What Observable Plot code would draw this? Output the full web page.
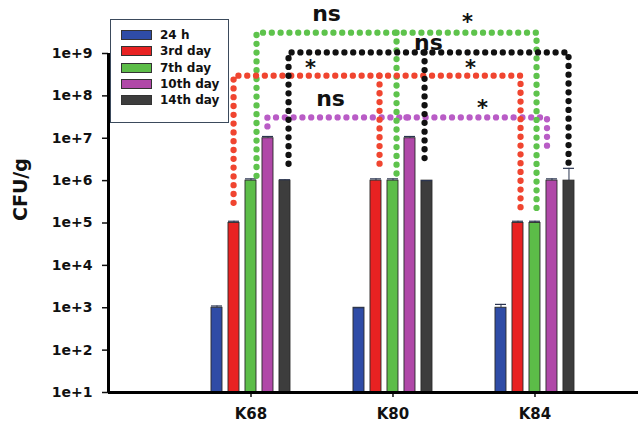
<!DOCTYPE html>
<html><head><meta charset="utf-8">
<script src="https://cdn.jsdelivr.net/npm/d3@7"></script>
<script src="https://cdn.jsdelivr.net/npm/@observablehq/plot@0.6"></script>
<style>
body{margin:0;background:#fff;}
#wrap{position:relative;width:638px;height:425px;font-family:"DejaVu Sans",sans-serif;}
#legend{position:absolute;left:110px;top:19px;width:117px;height:95px;border:1.5px solid #3b4a5c;background:#fff;padding-top:7px;box-sizing:content-box;}
#legend .row{display:flex;align-items:center;height:16.25px;padding-left:10px;font-size:12px;font-weight:bold;color:#111;}
#legend .sw{width:31px;height:10px;border:1px solid #333;margin-right:8px;box-sizing:border-box;}
</style></head><body>
<div id="wrap"><div id="chart"></div><div id="legend"></div></div>
<script>
// ---- data ----
const categories = ["K68", "K80", "K84"];
const series = ["24 h", "3rd day", "7th day", "10th day", "14th day"];
const colors = ["#2f4ca6", "#e82222", "#5cbd48", "#b048a8", "#3d3d3d"];
const v24h   = [1.0e3, 1.0e3, 1.0e3];
const vDay3  = [1.0e5, 1.0e6, 1.0e5];
const vDay7  = [1.0e6, 1.0e6, 1.0e5];
const vDay10 = [1.0e7, 1.0e7, 1.0e6];
const vDay14 = [1.0e6, 1.0e6, 1.0e6];
const e24h   = [1.1e3, 1.0e3, 1.2e3];
const eDay3  = [1.1e5, 1.1e6, 1.1e5];
const eDay7  = [1.1e6, 1.1e6, 1.1e5];
const eDay10 = [1.1e7, 1.1e7, 1.1e6];
const eDay14 = [1.05e6, 1.0e6, 1.95e6];
const yTicks = [1e1, 1e2, 1e3, 1e4, 1e5, 1e6, 1e7, 1e8, 1e9];

// significance brackets (series compared, level, bottom of each leg)
const bracketSeries  = ["10th day", "7th day", "3rd day", "14th day"];
const bracketColors  = ["#b95cc6", "#5ec34c", "#f04530", "#111111"];
const bracketLevel   = [3.1e7, 3.1e9, 3.0e8, 1.06e9];
const bracketBottoms = [[1.9e7, 1.95e7, 4.6e6], [1.3e6, 1.3e6, 1.5e5], [3.0e5, 1.7e6, 1.7e5], [2.5e6, 2.5e6, 2.5e6]];
const bracketNudge   = [[-0.004, -0.025, -0.035], [0.039, 0.025, 0.011], [-0.003, 0.025, 0.018], [0.025, -0.017, -0.003]];
const sigLabels = ["ns", "*", "*", "ns", "*", "ns", "*"];
const sigX      = [0.532, 1.525, 0.419, 1.25, 1.546, 0.56, 1.63];
const sigY      = [8.3e9, 7.1e9, 5.8e8, 1.7e9, 5.8e8, 8.2e7, 6.6e7];

// ---- layout constants ----
const PITCH = 0.1197, BW = 0.0775;
const X_MIN = -1.0035, X_MAX = 2.729;

const vals = [v24h, vDay3, vDay7, vDay10, vDay14];
const errs = [e24h, eDay3, eDay7, eDay10, eDay14];
const rows = [];
categories.forEach((c, g) => series.forEach((s, i) => rows.push({g, i, cat: c, series: s, value: vals[i][g], err: errs[i][g]})));
const xc = d => d.g + (d.i - 2) * PITCH;

const bracketMarks = bracketSeries.map((name, b) => {
  const s = series.indexOf(name);
  const xs = [0, 1, 2].map(g => g + (s - 2) * PITCH + bracketNudge[b][g]);
  const lv = bracketLevel[b], bt = bracketBottoms[b];
  const pts = [
    {x: xs[0], y: bt[0], z: 0}, {x: xs[0], y: lv, z: 0}, {x: xs[2], y: lv, z: 0}, {x: xs[2], y: bt[2], z: 0},
    {x: xs[1], y: lv, z: 1}, {x: xs[1], y: bt[1], z: 1}
  ];
  return Plot.line(pts, {x: "x", y: "y", z: "z", stroke: bracketColors[b], strokeWidth: 6.3,
    strokeDasharray: "0 8.8", strokeLinecap: "round", strokeLinejoin: "round"});
});

const sig = sigLabels.map((t, k) => ({t, x: sigX[k], y: sigY[k]}));

const chart = Plot.plot({
  width: 638, height: 425,
  marginLeft: 108, marginRight: 0, marginTop: 53, marginBottom: 33,
  style: {fontFamily: "DejaVu Sans, sans-serif", fontWeight: "bold", color: "#111", background: "#fff"},
  x: {type: "linear", domain: [X_MIN, X_MAX]},
  y: {type: "log", domain: [1e1, 1e9]},
  color: {domain: series, range: colors},
  marks: [
    Plot.rectY(rows, {x1: d => xc(d) - BW / 2, x2: d => xc(d) + BW / 2, y1: 1e1, y2: "value", fill: "series", stroke: "#2a2a2a", strokeWidth: 0.9}),
    Plot.ruleX(rows, {x: xc, y1: "value", y2: "err", stroke: "#2b3550", strokeWidth: 1}),
    Plot.ruleY(rows, {y: "err", x1: d => xc(d) - BW / 2, x2: d => xc(d) + BW / 2, stroke: "#2b3550", strokeWidth: 1.2}),
    ...bracketMarks,
    Plot.text(sig.filter(d => d.t === "ns"), {x: "x", y: "y", text: "t", fontSize: 22, dy: -1, fill: "#111"}),
    Plot.text(sig.filter(d => d.t === "*"), {x: "x", y: "y", text: "t", fontSize: 21, dy: 5, fill: "#111"}),
    Plot.axisY({ticks: yTicks, tickFormat: d3.format(".0e"), tickSize: 6, tickPadding: 10, fontSize: 14, strokeWidth: 1.5, label: null}),
    Plot.axisX({ticks: [0, 1, 2], tickFormat: i => categories[i], tickSize: 5, tickPadding: 11, fontSize: 15, strokeWidth: 1.5, label: null}),
    Plot.ruleX([X_MIN], {stroke: "#000", strokeWidth: 3}),
    Plot.ruleY([1e1], {stroke: "#000", strokeWidth: 3}),
    Plot.text(["CFU/g"], {frameAnchor: "left", rotate: -90, dx: -88, dy: -2, fontSize: 19, fill: "#111"})
  ]
});
document.getElementById("chart").appendChild(chart);

const lg = document.getElementById("legend");
series.forEach((s, i) => {
  const r = document.createElement("div"); r.className = "row";
  const sw = document.createElement("div"); sw.className = "sw"; sw.style.background = colors[i];
  const t = document.createElement("span"); t.textContent = s;
  r.appendChild(sw); r.appendChild(t); lg.appendChild(r);
});
</script>
</body></html>
